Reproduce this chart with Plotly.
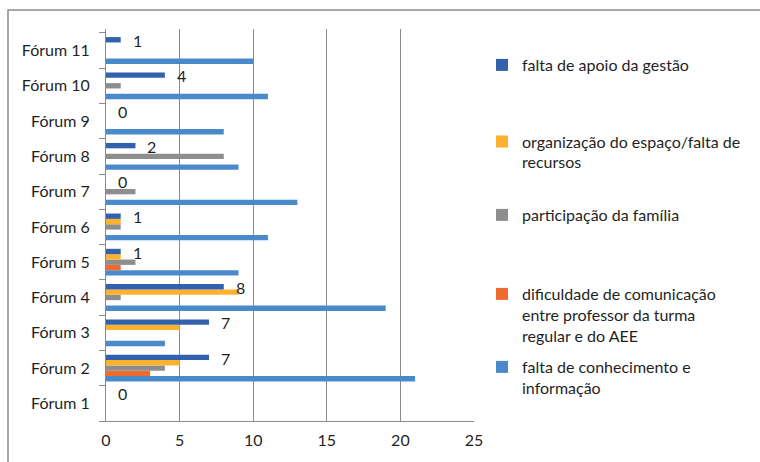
import plotly.graph_objects as go

categories = ["Fórum 1", "Fórum 2", "Fórum 3", "Fórum 4", "Fórum 5", "Fórum 6",
              "Fórum 7", "Fórum 8", "Fórum 9", "Fórum 10", "Fórum 11"]

falta_conhecimento = [0, 21, 4, 19, 9, 11, 13, 9, 8, 11, 10]
dificuldade_comunicacao = [0, 3, 0, 0, 1, 0, 0, 0, 0, 0, 0]
participacao_familia = [0, 4, 0, 1, 2, 1, 2, 8, 0, 1, 0]
organizacao_espaco = [0, 5, 5, 9, 1, 1, 0, 0, 0, 0, 0]
falta_apoio_gestao = [0, 7, 7, 8, 1, 1, 0, 2, 0, 4, 1]

series_names = [
    "falta de conhecimento e<br>informação",
    "dificuldade de comunicação<br>entre professor da turma<br>regular e do AEE",
    "participação da família",
    "organização do espaço/falta de<br>recursos",
    "falta de apoio da gestão",
]
series_values = [falta_conhecimento, dificuldade_comunicacao, participacao_familia,
                 organizacao_espaco, falta_apoio_gestao]
colors = ["#4A89CA", "#EE6B2D", "#8E8E8E", "#FDB22D", "#3262AD"]

FONT = "Lato"
FS = 16
TXT = "#1F1F1F"
GRID = "#8A8A8A"

# plot area geometry (px)
L, R, T, B = 106, 286, 29, 41
W, H = 760, 462
PW, PH = W - L - R, H - T - B

def py(p):
    return (H - B - p) / PH

def px(p):
    return (p - L) / PW

legend_centers = [377.5, 315, 215, 152, 65]
legend_keys = ["legend5", "legend4", "legend3", "legend2", "legend"]

fig = go.Figure()
for name, vals, col, lk in zip(series_names, series_values, colors, legend_keys):
    fig.add_trace(go.Bar(
        y=categories, x=vals, name=name, orientation="h",
        marker=dict(color=col, line=dict(width=0)),
        legend=lk,
    ))

# data labels for "falta de apoio da gestão"
for c, v in zip(categories, falta_apoio_gestao):
    fig.add_annotation(x=v, y=c, text=str(v), showarrow=False,
                       xanchor="left", yanchor="middle", xshift=10, yshift=10,
                       font=dict(family=FONT, size=FS, color=TXT))

legend_layout = {}
for lk, cy in zip(legend_keys, legend_centers):
    legend_layout[lk] = dict(
        x=px(482), xanchor="left", y=py(cy), yanchor="middle",
        bgcolor="rgba(0,0,0,0)", borderwidth=0,
        font=dict(family=FONT, size=FS, color=TXT),
        valign="top", itemclick=False, itemdoubleclick=False,
    )

fig.update_layout(
    width=W, height=H,
    margin=dict(l=L, r=R, t=T, b=B, pad=0),
    paper_bgcolor="white", plot_bgcolor="white",
    barmode="group", bargap=0.24, bargroupgap=0,
    font=dict(family=FONT, size=FS, color=TXT),
    showlegend=True,
    **legend_layout,
    xaxis=dict(range=[0, 25], dtick=5, tick0=0, showgrid=True, gridcolor=GRID,
               gridwidth=1, showline=True, linecolor=GRID, linewidth=1,
               zeroline=False, ticks="", ticklabelstandoff=5,
               tickfont=dict(family=FONT, size=FS, color=TXT), fixedrange=True),
    yaxis=dict(type="category", showgrid=False, showline=True, linecolor=GRID,
               linewidth=1, ticks="outside", tickson="boundaries", ticklen=6,
               tickcolor=GRID, zeroline=False, ticklabelstandoff=12,
               tickfont=dict(family=FONT, size=FS, color=TXT), fixedrange=True),
    shapes=[dict(type="rect", xref="paper", yref="paper",
                 x0=px(8), x1=px(775), y0=py(475), y1=py(10),
                 line=dict(color="#8C8C8C", width=1.5), fillcolor="rgba(0,0,0,0)",
                 layer="below")],
)

fig.write_html("out.html", config={"displayModeBar": False},
               post_script="document.body.style.margin='0';document.body.style.overflow='hidden';")
